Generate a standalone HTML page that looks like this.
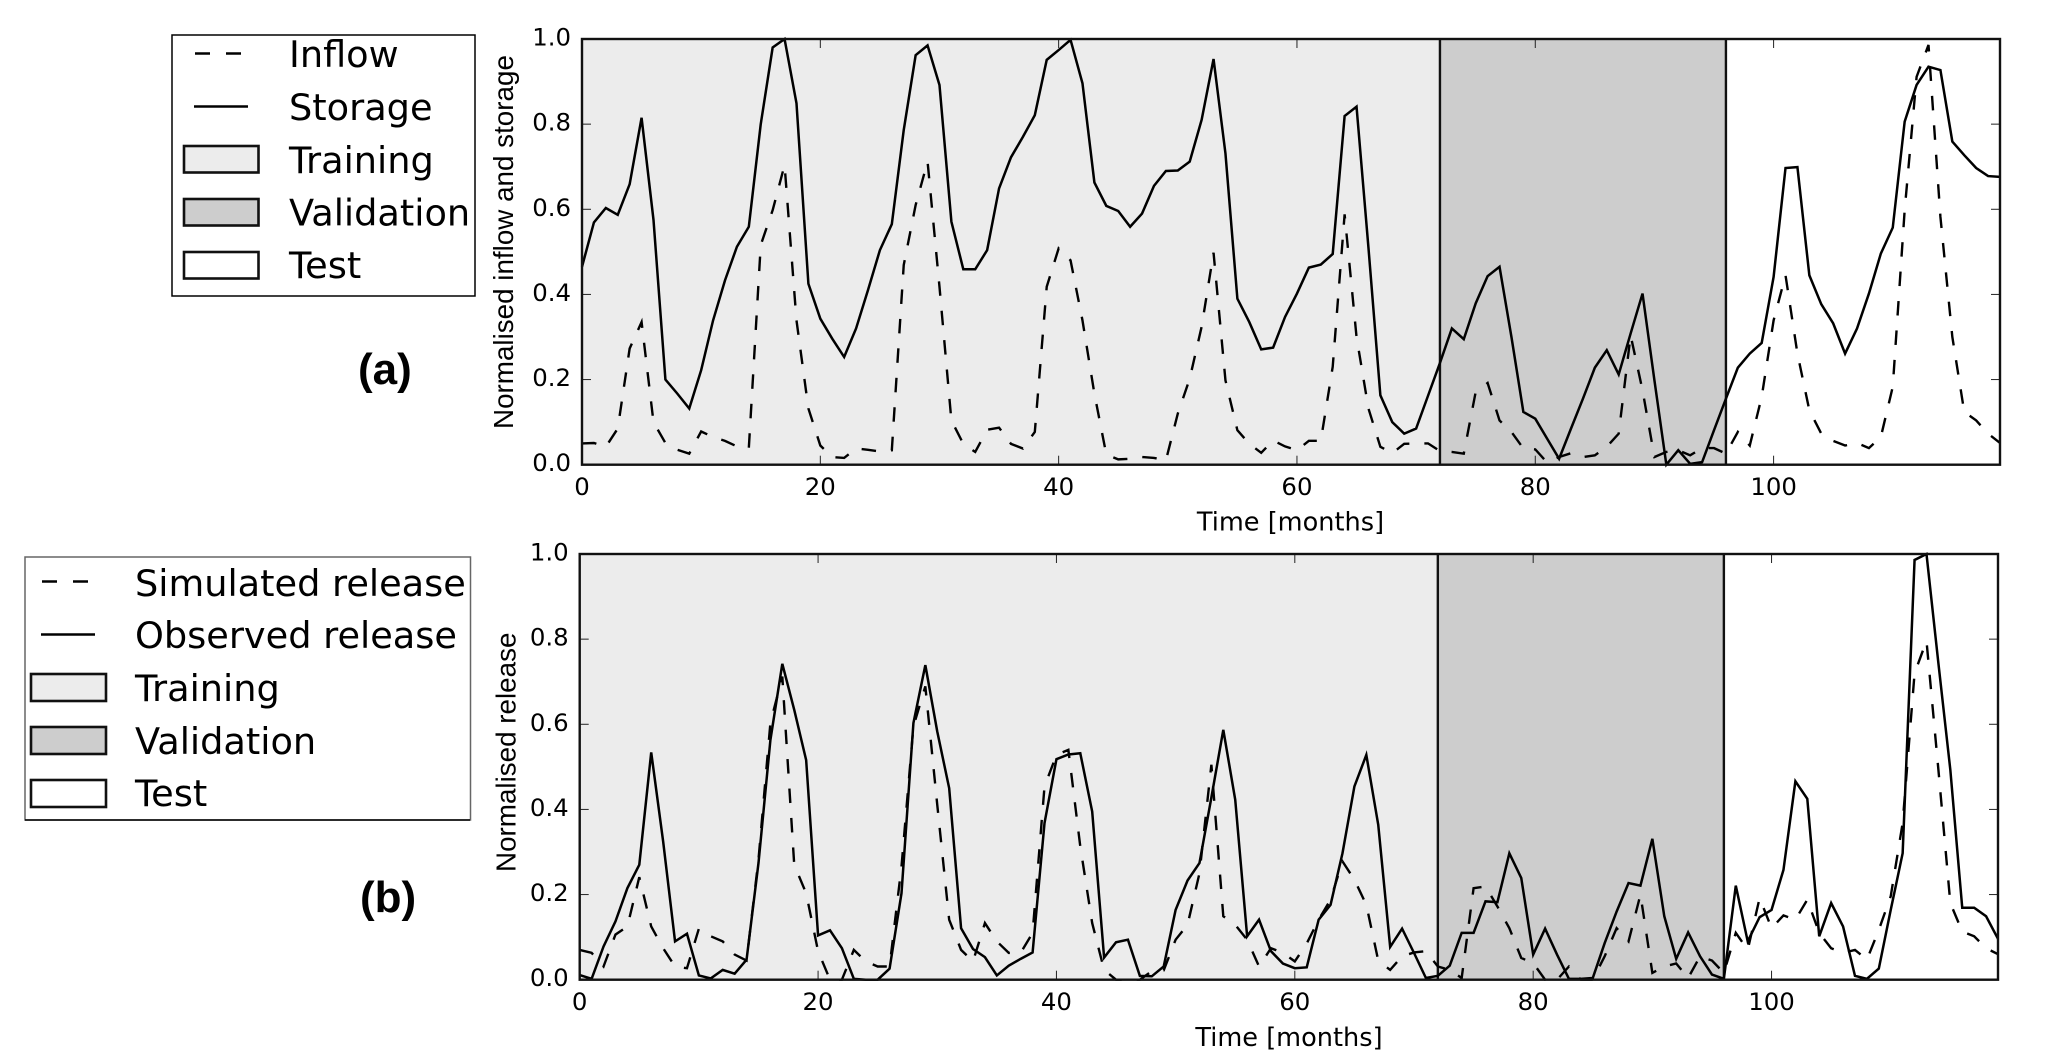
<!DOCTYPE html>
<html lang="en">
<head>
<meta charset="utf-8">
<title>Normalised inflow, storage and release</title>
<style>
html,body{margin:0;padding:0;background:#fff;}
svg{display:block;}
text{font-family:"DejaVu Sans",sans-serif;fill:#000;}
.lg{font-size:36.7px;}
.tick{font-size:24.4px;}
.ylab{font-family:"Liberation Sans",sans-serif;font-size:27.8px;}
.xlab{font-size:25.6px;}
.tag{font-family:"Liberation Sans",sans-serif;font-weight:bold;font-size:44px;}
</style>
</head>
<body>
<svg id="fig" xmlns="http://www.w3.org/2000/svg" width="2067" height="1061" viewBox="0 0 2067 1061">
  <rect x="0" y="0" width="2067" height="1061" fill="#fff"/>

  <g>
    <rect x="172" y="35" width="303" height="261" fill="#fff" stroke="#000" stroke-width="1.5"/>
    <line x1="195" y1="53.5" x2="242" y2="53.5" stroke="#000" stroke-width="2.4" stroke-dasharray="15 16"/>
    <line x1="194" y1="106.5" x2="248" y2="106.5" stroke="#000" stroke-width="2.4"/>
    <rect x="184" y="146" width="74.5" height="26.5" fill="#ececec" stroke="#111" stroke-width="2.6"/>
    <rect x="184" y="199" width="74.5" height="26.5" fill="#cdcdcd" stroke="#111" stroke-width="2.6"/>
    <rect x="184" y="252" width="74.5" height="26.5" fill="#fff" stroke="#111" stroke-width="2.6"/>
    <text class="lg" x="289" y="67">Inflow</text>
    <text class="lg" x="289" y="120">Storage</text>
    <text class="lg" x="289" y="173">Training</text>
    <text class="lg" x="289" y="225.5">Validation</text>
    <text class="lg" x="289" y="278">Test</text>
  </g>

  <g>
    <rect x="25" y="557" width="445.5" height="263" fill="#fff" stroke="#666" stroke-width="1.5"/>
    <line x1="25" y1="820" x2="470" y2="820" stroke="#000" stroke-width="1.5"/>
    <line x1="42" y1="581.5" x2="89" y2="581.5" stroke="#000" stroke-width="2.4" stroke-dasharray="15 16"/>
    <line x1="41" y1="634.5" x2="95" y2="634.5" stroke="#000" stroke-width="2.4"/>
    <rect x="31" y="674" width="75" height="27" fill="#ececec" stroke="#111" stroke-width="2.6"/>
    <rect x="31" y="727" width="75" height="27" fill="#cdcdcd" stroke="#111" stroke-width="2.6"/>
    <rect x="31" y="780" width="75" height="27" fill="#fff" stroke="#111" stroke-width="2.6"/>
    <text class="lg" x="135" y="596">Simulated release</text>
    <text class="lg" x="135" y="648">Observed release</text>
    <text class="lg" x="135" y="701">Training</text>
    <text class="lg" x="135" y="754">Validation</text>
    <text class="lg" x="135" y="806">Test</text>
  </g>

  <text class="tag" x="358" y="384">(a)</text>
  <text class="tag" x="360" y="912">(b)</text>

  <text class="ylab" transform="translate(513,429) rotate(-90)">Normalised inflow and storage</text>
  <text class="ylab" transform="translate(515.5,872) rotate(-90)">Normalised release</text>
  <text class="xlab" x="1290.5" y="530.5" text-anchor="middle">Time [months]</text>
  <text class="xlab" x="1289" y="1046" text-anchor="middle">Time [months]</text>

  <g id="panel-a"></g>
  <g id="panel-b"></g>
</svg>

<script>
var inflow = [.05,.051,.042,.085,.273,.335,.1,.051,.035,.026,.078,.065,.056,.043,.039,.516,.598,.704,.339,.132,
.045,.018,.016,.038,.035,.031,.034,.469,.61,.712,.418,.104,.049,.03,.082,.087,.049,.038,.077,.418,
.508,.48,.339,.167,.024,.0125,.014,.018,.016,.01,.12,.202,.324,.498,.198,.081,.049,.028,.057,.043,
.034,.056,.056,.23,.588,.3,.132,.042,.027,.049,.05,.05,.032,.03,.026,.171,.192,.104,.077,.038,
.036,.005,.018,.027,.018,.022,.042,.073,.304,.175,.018,.03,.034,.022,.039,.039,.026,.077,.045,.159,
.339,.445,.261,.128,.073,.056,.045,.051,.039,.065,.183,.598,.911,.986,.582,.3,.124,.104,.073,.051];

var storage = [.465,.569,.603,.587,.659,.815,.575,.2,.167,.132,.222,.339,.433,.512,.559,.8,.98,1,.849,.425,
.343,.296,.253,.32,.41,.504,.565,.786,.962,.985,.892,.571,.459,.459,.504,.649,.722,.77,.821,.951,
.974,.998,.896,.663,.608,.596,.559,.59,.655,.69,.691,.712,.81,.953,.731,.39,.335,.271,.275,.347,
.402,.463,.47,.495,.819,.841,.51,.163,.1,.073,.085,.162,.239,.32,.295,.379,.443,.465,.3,.124,
.108,.061,.014,.085,.155,.228,.269,.212,.308,.402,.198,0,.034,.002,.006,.081,.155,.228,.261,.286,
.441,.697,.699,.445,.377,.332,.261,.32,.402,.496,.557,.806,.892,.935,.927,.759,.727,.697,.678,.676];

var simulated = [.07,.063,.031,.106,.125,.241,.125,.074,.031,.027,.12,.102,.09,.059,.045,.282,.603,.712,.27,.203,
.067,0,0,.07,.043,.031,.031,.266,.595,.689,.411,.141,.07,.043,.133,.09,.063,.063,.11,.454,
.528,.54,.313,.133,.023,0,0,0,.02,.022,.094,.129,.25,.505,.149,.129,.094,.031,.074,.063,
.043,.085,.141,.188,.278,.235,.176,.045,.023,.055,.064,.067,.031,.023,.004,.215,.219,.172,.121,.051,
.039,0,0,.031,0,0,.055,.121,.09,.2,.016,.031,.038,.004,.055,.045,.016,.11,.07,.192,
.121,.151,.141,.188,.11,.074,.063,.07,.047,.117,.196,.368,.72,.796,.493,.18,.113,.102,.074,.06];

var observed = [.011,.002,.078,.137,.215,.27,.534,.325,.09,.108,.01,.003,.023,.014,.047,.274,.563,.742,.634,.516,
.104,.116,.074,.002,0,0,.026,.203,.603,.739,.583,.45,.121,.072,.053,.01,.033,.049,.064,.368,
.518,.529,.532,.395,.052,.088,.094,.009,.008,.031,.164,.233,.274,.428,.587,.423,.102,.141,.067,.038,
.027,.029,.141,.176,.297,.454,.528,.364,.077,.12,.063,.004,.009,.033,.11,.11,.184,.182,.297,.239,
.059,.12,.059,.002,.002,.004,.086,.16,.227,.221,.331,.149,.049,.111,.055,.012,.002,.221,.09,.147,
.164,.258,.466,.425,.102,.18,.125,.009,.002,.026,.164,.297,.986,1,.743,.493,.169,.169,.149,.096];

var xTickValues = [0,20,40,60,80,100];
var yTickValues = [0,0.2,0.4,0.6,0.8,1];
var yTickLabels = ["0.0","0.2","0.4","0.6","0.8","1.0"];
var periodStarts = [0,72,96];
var periodEnds = [72,96,119];
var periodNames = ["training","validation","test"];
var periodFills = ["#ececec","#cdcdcd","#ffffff"];
var xMax = 119;

var SVGNS = "http://www.w3.org/2000/svg";

function make(tag, parent, attrs) {
  var el = document.createElementNS(SVGNS, tag);
  for (var k in attrs) { el.setAttribute(k, attrs[k]); }
  parent.appendChild(el);
  return el;
}

function drawPanel(root, box, prefix, dashed, solid, dashedName, solidName) {
  function sx(v) { return box.left + (box.right - box.left) * v / xMax; }
  function sy(v) { return box.bottom - (box.bottom - box.top) * v; }

  periodStarts.forEach(function (start, i) {
    var r = make("rect", root, {x: sx(start), y: box.top, width: sx(periodEnds[i]) - sx(start), height: box.bottom - box.top, fill: periodFills[i]});
    
    
  });

  [periodEnds[0], periodEnds[1]].forEach(function (v) {
    var l = make("line", root, {x1: sx(v), x2: sx(v), y1: box.top, y2: box.bottom, stroke: "#111", "stroke-width": 2.4});
    
    
  });

  xTickValues.forEach(function (v) {
    var t1 = make("line", root, {x1: sx(v), x2: sx(v), y1: box.bottom, y2: box.bottom - 9, stroke: "#222", "stroke-width": 1});
    
    
    var t2 = make("line", root, {x1: sx(v), x2: sx(v), y1: box.top, y2: box.top + 9, stroke: "#222", "stroke-width": 1});
    
    
    var lab = make("text", root, {x: sx(v), y: box.bottom + 30.5, "text-anchor": "middle", "class": "tick"});
    lab.textContent = String(v);
    
    
  });

  yTickValues.forEach(function (v, i) {
    var t1 = make("line", root, {x1: box.left, x2: box.left + 9, y1: sy(v), y2: sy(v), stroke: "#222", "stroke-width": 1});
    
    
    var t2 = make("line", root, {x1: box.right, x2: box.right - 9, y1: sy(v), y2: sy(v), stroke: "#222", "stroke-width": 1});
    
    
    var lab = make("text", root, {x: box.left - 11, y: sy(v) + 6.5, "text-anchor": "end", "class": "tick"});
    lab.textContent = yTickLabels[i];
    
    
  });

  function pts(values) {
    return values.map(function (v, i) { return sx(i).toFixed(2) + "," + sy(v).toFixed(2); }).join(" ");
  }

  var dl = make("polyline", root, {points: pts(dashed), fill: "none", stroke: "#000", "stroke-width": 2.4, "stroke-dasharray": "14.5 15", "stroke-linejoin": "miter"});
  
  
  var sl = make("polyline", root, {points: pts(solid), fill: "none", stroke: "#000", "stroke-width": 2.5, "stroke-linejoin": "miter"});
  
  

  var frame = make("rect", root, {x: box.left, y: box.top, width: box.right - box.left, height: box.bottom - box.top, fill: "none", stroke: "#111", "stroke-width": 2.4});
  
  
}

drawPanel(document.getElementById("panel-a"), {left: 582, right: 2000, top: 39, bottom: 464.7}, "panel-a", inflow, storage, "inflow-line", "storage-line");
drawPanel(document.getElementById("panel-b"), {left: 579.7, right: 1998, top: 554, bottom: 979.7}, "panel-b", simulated, observed, "simulated-release-line", "observed-release-line");
</script>
</body>
</html>
